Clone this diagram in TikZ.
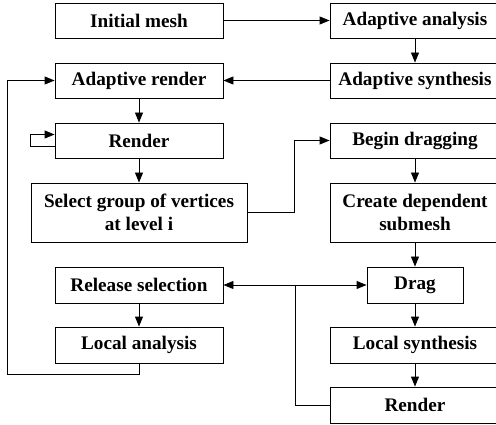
\documentclass[tikz,border=0pt]{standalone}
\usepackage{fontspec}
\setmainfont{Liberation Serif}
\usetikzlibrary{arrows.meta}
\begin{document}
\begin{tikzpicture}[x=1pt,y=-1pt,
  box/.style={draw,line width=0.9pt,rectangle,inner sep=0pt,minimum width=168pt,minimum height=35pt,align=center,font=\fontsize{19.2}{23}\selectfont\bfseries},
  rbox/.style={box,minimum width=170pt},
  conn/.style={line width=0.9pt},
  arr/.style={conn,-{Triangle[length=10pt,width=8pt]}}]
\useasboundingbox (0,0) rectangle (496,425);
\node[box] (init) at (139,20.5) {Initial mesh};
\node[box] (arender) at (139,80.5) {Adaptive render};
\node[box] (render) at (139,140.5) {Render};
\node[box,minimum width=216pt,minimum height=59pt] (select) at (139,212.5) {Select group of vertices\\at level i};
\node[box,minimum height=36pt] (release) at (139,285) {Release selection};
\node[box,minimum height=36pt] (lanalysis) at (139,345) {Local analysis};
\node[rbox] (aanalysis) at (415,20.5) {Adaptive analysis};
\node[rbox] (asynth) at (415,80.5) {Adaptive synthesis};
\node[rbox] (begin) at (415,140.5) {Begin dragging};
\node[rbox,minimum height=59pt] (create) at (415,212.5) {Create dependent\\submesh};
\node[box,minimum width=96pt,minimum height=36pt] (drag) at (415,285) {Drag};
\node[rbox,minimum height=36pt] (lsynth) at (415,345) {Local synthesis};
\node[rbox,minimum height=36pt] (render2) at (415,405) {Render};
\coordinate (loopa) at (30,146);
\coordinate (loopb) at (30,134.5);
\coordinate (selx) at (294,212.5);
\coordinate (bx) at (295,285);
\coordinate (lb) at (139,374);
\coordinate (lc) at (7,374);
\draw[arr] (init) -- (aanalysis);
\draw[arr] (aanalysis) -- (asynth);
\draw[arr] (asynth) -- (arender);
\draw[arr] (arender) -- (render);
\draw[arr] (render.west |- loopa) -- (loopa) -- (loopb) -- (render.west |- loopb);
\draw[arr] (render) -- (select);
\draw[arr] (select.east |- selx) -- (selx) |- (begin.west);
\draw[arr] (begin) -- (create);
\draw[arr] (create) -- (drag);
\draw[conn,{Triangle[length=10pt,width=8pt]}-{Triangle[length=10pt,width=8pt]}] (release) -- (drag);
\draw[conn] (bx) |- (render2.west);
\draw[arr] (drag) -- (lsynth);
\draw[arr] (lsynth) -- (render2);
\draw[arr] (release) -- (lanalysis);
\draw[arr] (lanalysis) -- (lb) -- (lc) |- (arender.west);
\end{tikzpicture}
\end{document}
